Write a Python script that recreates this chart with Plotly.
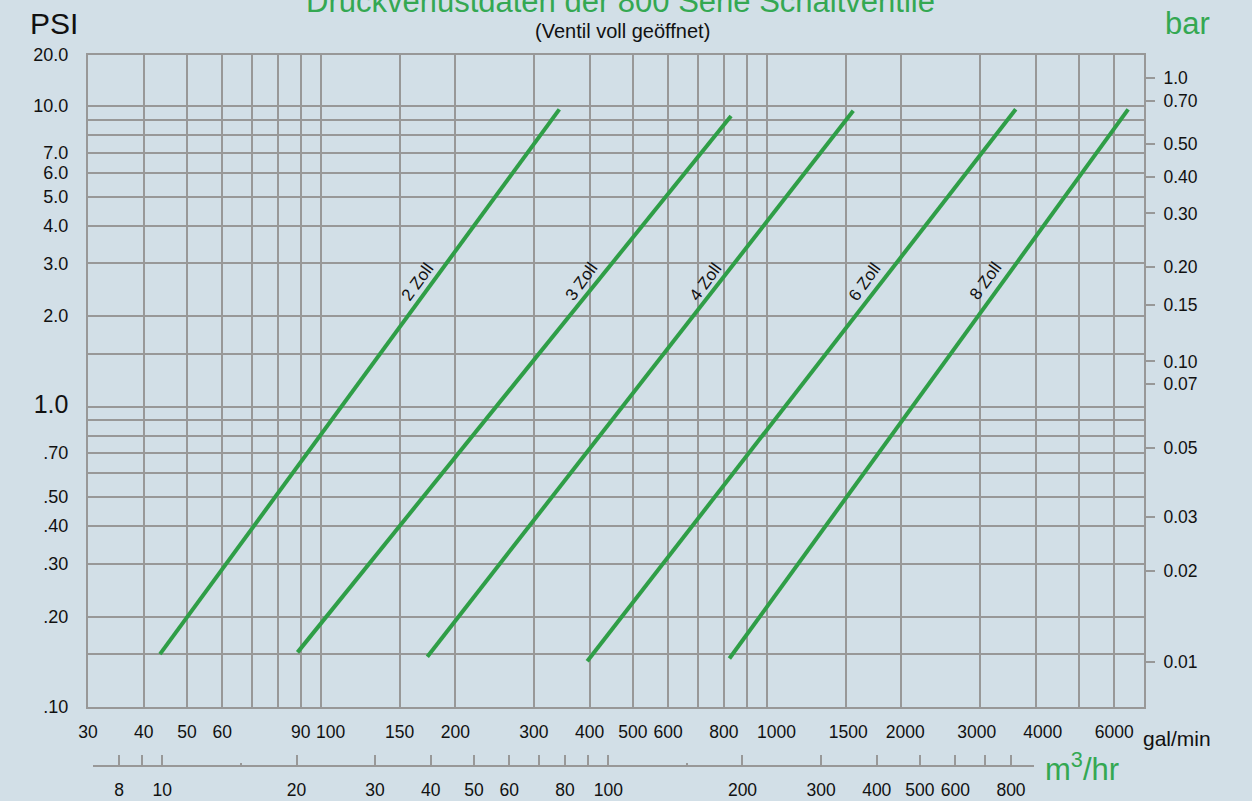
import numpy as np
import plotly.graph_objects as go

# ---------------- data ----------------
sizes = ["2 Zoll", "3 Zoll", "4 Zoll", "6 Zoll", "8 Zoll"]
flow_start_gpm = [43.5, 88.5, 173, 395, 823]
flow_end_gpm = [342, 830, 1560, 3610, 6450]
psi_start = [0.150, 0.152, 0.147, 0.142, 0.145]
psi_end = [9.76, 9.27, 9.65, 9.76, 9.76]
label_flow_gpm = [165, 384, 730, 1660, 3100]
label_psi = [2.60, 2.60, 2.60, 2.60, 2.62]

x_grid_vals = [30, 40, 50, 60, 70, 80, 90, 100, 150, 200, 300, 400, 500, 600, 700,
               800, 900, 1000, 1500, 2000, 3000, 4000, 5000, 6000]
x_label_vals = [30, 40, 50, 60, 90, 105, 150, 200, 300, 400, 500, 600, 800,
                1050, 1520, 2040, 2950, 4150, 6000]
x_label_text = ["30", "40", "50", "60", "90", "100", "150", "200", "300", "400",
                "500", "600", "800", "1000", "1500", "2000", "3000", "4000", "6000"]
x_min, x_max = 30, 7000

y_tick_vals = [14.79, 10, 7, 6, 5, 4, 3, 2, 1, 0.7, 0.5, 0.4, 0.3, 0.2, 0.1]
y_tick_text = ["20.0", "10.0", "7.0", "6.0", "5.0", "4.0", "3.0", "2.0",
               "<span style='font-size:25px'>1.0</span>",
               ".70", ".50", ".40", ".30", ".20", ".10"]
y_grid_extra = [9, 8, 1.5, 0.9, 0.8, 0.6, 0.15]
y_min, y_max = 0.1, 14.8

PSI_PER_BAR = 14.5
bar_tick_vals = [0.854, 0.719, 0.515, 0.402, 0.303, 0.201, 0.150, 0.0975,
                 0.0822, 0.0503, 0.0296, 0.01955, 0.00972]
bar_tick_text = ["1.0", "0.70", "0.50", "0.40", "0.30", "0.20", "0.15", "0.10",
                 "0.07", "0.05", "0.03", "0.02", "0.01"]

GPM_PER_M3H = 4.403
m3_label_vals = [8, 10, 20, 30, 40, 50, 60, 80, 100, 200, 300, 400, 500, 600, 800]
m3_label_text = ["8", "10", "20", "30", "40", "50", "60", "80", "100",
                 "200", "300", "400", "500", "600", "800"]
m3_unlabeled_ticks = [7, 9, 70, 90, 700, 900]
m3_small_ticks = [15, 150]
m3_min, m3_max = 7, 900

# ---------------- style / layout ----------------
FONT = "Liberation Sans, Arial, Helvetica, sans-serif"
BG = "#d2dfe7"
GRID = "#989898"
GREEN_LINE = "#2f9e47"
GREEN_TEXT = "#34a852"
INK = "#111111"
W, H = 1252, 801
L, R, T, B = 88, 108, 55, 20
plot_w = W - L - R
plot_h = H - T - B


def px_x(px):
    return (px - L) / plot_w


def px_y(py):
    return (H - B - py) / plot_h


main_bottom_px = 707
m3_axis_px = 766


def frac_gpm(v):
    return (np.log10(v) - np.log10(x_min)) / (np.log10(x_max) - np.log10(x_min))


m3_domain = [frac_gpm(m3_min * GPM_PER_M3H), frac_gpm(m3_max * GPM_PER_M3H)]
m3_range = [np.log10(m3_min), np.log10(m3_max)]

fig = go.Figure()

for name, fs, fe, ps, pe in zip(sizes, flow_start_gpm, flow_end_gpm, psi_start, psi_end):
    fig.add_trace(go.Scatter(x=[fs, fe], y=[ps, pe], mode="lines", name=name,
                             line=dict(color=GREEN_LINE, width=4),
                             showlegend=False, hoverinfo="skip"))

# invisible helpers so the secondary axes are drawn
hidden = dict(mode="markers", marker=dict(opacity=0), showlegend=False, hoverinfo="skip")
fig.add_trace(go.Scatter(x=[100], y=[0.1], yaxis="y2", **hidden))
fig.add_trace(go.Scatter(x=[100], y=[1], xaxis="x3", **hidden))
fig.add_trace(go.Scatter(x=[10], y=[0.5], xaxis="x2", yaxis="y3", **hidden))
fig.add_trace(go.Scatter(x=[10], y=[0.5], xaxis="x4", yaxis="y3", **hidden))

for name, lf, lp in zip(sizes, label_flow_gpm, label_psi):
    fig.add_annotation(x=np.log10(lf), y=np.log10(lp), xref="x", yref="y",
                       text=name, showarrow=False, textangle=-54,
                       font=dict(family=FONT, size=17, color=INK))

tickfont = dict(size=17.5, family=FONT, color=INK)

fig.update_layout(
    width=W, height=H, autosize=False,
    margin=dict(l=L, r=R, t=T, b=B, pad=0, autoexpand=False),
    paper_bgcolor=BG, plot_bgcolor="rgba(0,0,0,0)",
    hovermode=False,
    font=dict(family=FONT, color=INK, size=17.5),
    xaxis=dict(
        type="log", range=[np.log10(x_min), np.log10(x_max)], domain=[0, 1],
        anchor="y", tickmode="array", tickvals=x_grid_vals,
        showticklabels=False, ticks="",
        showgrid=True, gridcolor=GRID, gridwidth=1.5,
        showline=True, linecolor=GRID, linewidth=2, mirror=True, zeroline=False,
    ),
    xaxis3=dict(
        type="log", range=[np.log10(x_min), np.log10(x_max)], overlaying="x",
        anchor="y", side="bottom",
        tickmode="array", tickvals=x_label_vals, ticktext=x_label_text,
        tickangle=0, ticks="", ticklabelstandoff=12, tickfont=tickfont,
        showgrid=False, showline=False, zeroline=False,
    ),
    yaxis=dict(
        type="log", range=[np.log10(y_min), np.log10(y_max)],
        domain=[px_y(main_bottom_px), 1], anchor="x",
        tickmode="array", tickvals=y_tick_vals, ticktext=y_tick_text,
        ticks="", ticklabelstandoff=14,
        tickfont=dict(size=18, family=FONT, color=INK),
        showgrid=True, gridcolor=GRID, gridwidth=1.5,
        showline=True, linecolor=GRID, linewidth=2, mirror=True, zeroline=False,
        minor=dict(tickmode="array", tickvals=y_grid_extra, showgrid=True,
                   gridcolor=GRID, gridwidth=1.5, ticks=""),
    ),
    yaxis2=dict(
        type="log", overlaying="y", side="right", anchor="x",
        range=[np.log10(y_min / PSI_PER_BAR), np.log10(y_max / PSI_PER_BAR)],
        tickmode="array", tickvals=bar_tick_vals, ticktext=bar_tick_text,
        ticks="outside", ticklen=10, tickwidth=1.5, tickcolor=GRID,
        ticklabelstandoff=5, tickfont=tickfont,
        showgrid=False, showline=False, zeroline=False,
    ),
    xaxis2=dict(
        type="log", range=m3_range, domain=m3_domain,
        anchor="free", position=px_y(m3_axis_px), side="bottom",
        tickmode="array", tickvals=m3_label_vals, ticktext=m3_label_text,
        ticks="inside", ticklen=10, tickwidth=1.5, tickcolor=GRID,
        ticklabelstandoff=8, tickangle=0, tickfont=tickfont,
        showgrid=False, showline=True, linecolor=GRID, linewidth=2, zeroline=False,
        minor=dict(tickmode="array", tickvals=m3_unlabeled_ticks, ticks="inside",
                   ticklen=10, tickwidth=1.5, tickcolor=GRID, showgrid=False),
    ),
    xaxis4=dict(
        type="log", range=m3_range, overlaying="x2",
        anchor="free", position=px_y(m3_axis_px), side="bottom",
        tickmode="array", tickvals=m3_small_ticks, showticklabels=False,
        ticks="inside", ticklen=3, tickwidth=1.5, tickcolor=GRID,
        showgrid=False, showline=False, zeroline=False,
    ),
    yaxis3=dict(domain=[0, 0.02], anchor="x2", visible=False, range=[0, 1]),
)

# titles and unit labels
fig.add_annotation(x=px_x(620), y=px_y(1), xref="paper", yref="paper",
                   text="Druckverlustdaten der 800 Serie Schaltventile",
                   showarrow=False, xanchor="center", yanchor="middle",
                   font=dict(family=FONT, size=31, color=GREEN_TEXT))
fig.add_annotation(x=px_x(622), y=px_y(31), xref="paper", yref="paper",
                   text="(Ventil voll geöffnet)", showarrow=False,
                   xanchor="center", yanchor="middle",
                   font=dict(family=FONT, size=20, color=INK))
fig.add_annotation(x=px_x(54), y=px_y(23), xref="paper", yref="paper",
                   text="PSI", showarrow=False, xanchor="center", yanchor="middle",
                   font=dict(family=FONT, size=30, color=INK))
fig.add_annotation(x=px_x(1187), y=px_y(24), xref="paper", yref="paper",
                   text="bar", showarrow=False, xanchor="center", yanchor="middle",
                   font=dict(family=FONT, size=31, color=GREEN_TEXT))
fig.add_annotation(x=px_x(1141), y=px_y(738), xref="paper", yref="paper",
                   text="gal/min", showarrow=False, xanchor="left", yanchor="middle",
                   font=dict(family=FONT, size=21, color=INK))
fig.add_annotation(x=px_x(1043), y=px_y(767), xref="paper", yref="paper",
                   text="m<sup>3</sup>/hr", showarrow=False, xanchor="left",
                   yanchor="middle",
                   font=dict(family=FONT, size=31, color=GREEN_TEXT))

fig.write_html(
    "out.html",
    config={"displayModeBar": False, "responsive": False},
    post_script=(
        "var de=document.documentElement, bd=document.body;"
        "de.style.margin='0';de.style.padding='0';de.style.overflow='hidden';"
        "bd.style.margin='0';bd.style.padding='0';bd.style.overflow='hidden';"
        "de.style.background='" + BG + "';bd.style.background='" + BG + "';"
    ),
)
